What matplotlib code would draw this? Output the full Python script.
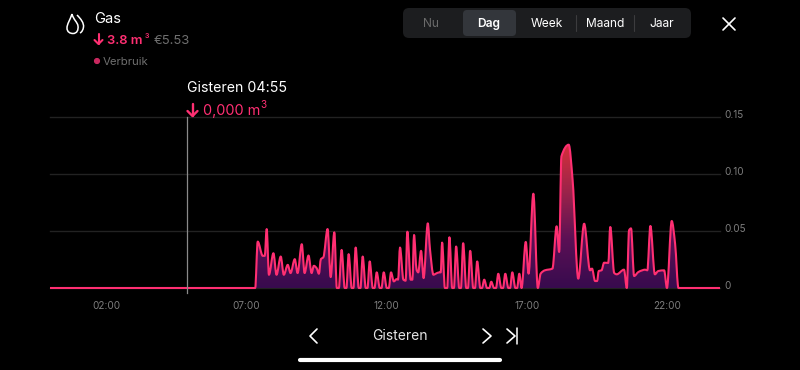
import numpy as np
import matplotlib
matplotlib.use('Agg')
import matplotlib.pyplot as plt
from matplotlib.patches import FancyBboxPatch, PathPatch, Circle
from matplotlib.path import Path
from matplotlib.colors import LinearSegmentedColormap

plt.rcParams['font.family'] = ['Inter', 'DejaVu Sans']

## chart values (hour of day, m3)
hours = [0, 7.31, 7.40, 7.58, 7.65, 7.72, 7.80, 7.96, 8.07, 8.22, 8.33, 8.47, 8.57, 8.72, 8.82, 8.97, 9.07, 9.21, 9.32,
         9.40, 9.50, 9.58, 9.65, 9.74, 9.89, 10.0, 10.13, 10.22, 10.29, 10.39, 10.50, 10.56, 10.64, 10.75, 10.81, 10.89,
         11.0, 11.06, 11.14, 11.25, 11.31, 11.39, 11.50, 11.56, 11.64, 11.75, 11.81, 11.89, 12.0, 12.07, 12.15, 12.25,
         12.35, 12.40, 12.47, 12.59, 12.67, 12.73, 12.85, 12.91, 12.97, 13.06, 13.12, 13.22, 13.31, 13.46, 13.54, 13.66,
         13.74, 13.87, 13.92, 13.97, 14.07, 14.15, 14.23, 14.33, 14.39, 14.47, 14.58, 14.64, 14.72, 14.83, 14.89, 14.97,
         15.08, 15.14, 15.22, 15.33, 15.39, 15.47, 15.57, 15.65, 15.72, 15.82, 15.89, 15.97, 16.08, 16.14, 16.22, 16.33,
         16.39, 16.47, 16.58, 16.64, 16.72, 16.80, 16.95, 17.05, 17.22, 17.38, 17.48, 17.63, 17.90, 18.05, 18.14, 18.22,
         18.48, 18.62, 18.82, 19.03, 19.24, 19.31, 19.42, 19.49, 19.55, 19.65, 19.74, 19.89, 19.96, 20.10, 20.19, 20.45,
         20.55, 20.63, 20.70, 20.81, 20.96, 21.10, 21.20, 21.28, 21.39, 21.55, 21.67, 21.88, 21.98, 22.15, 22.27, 22.39,
         23.87]
gas = [0, 0, .0407, .0282, .0282, .0517, .0116, .0305, .0116, .0276, .0116, .0203, .0131, .0253, .0131, .0384, .0131,
       .0285, .0131, .0195, .0174, .0125, .0253, .027, .0517, .0096, .0488, 0, 0, .0334, 0, 0, .0297, 0, 0, .0355,
       0, 0, .0276, 0, 0, .0233, 0, 0, .0137, 0, 0, .0137, 0, 0, .0137, .0058,
       .0078, .0073, .0355, .0073, .0064, .0494, .0073, .0073, .0465, .016, .0137, .0326, .0087, .0567, .0334, .0116,
       .0125, .0137, .0137, .0398, 0, 0, .0445, 0, 0, .0364, 0, 0, .0393, 0, 0, .0326,
       0, 0, .0233, 0, 0, .0073, 0, 0, .0055, 0, 0, .0125, 0, 0, .0125, 0,
       0, .0137, 0, 0, .0125, 0, .0404, .0126, .0827, 0, .0126, .0155, .017, .0541, .0316, .1155,
       .1257, .0944, .0082, .0564, .0155, .017, .0061, .0061, .0149, .0155, .0222, .022, .0535, .0132, .012, .0161,
       0, .0506, .0523, .0105, .014, .0155, .0161, .0155, .0544, .012, .0149, .0155, 0, .0588, .0389, 0,
       0]
y_ticks = [0, 0.05, 0.10, 0.15]
y_labels = ['0', '0.05', '0.10', '0.15']
x_ticks = [2, 7, 12, 17, 22]
x_labels = ['02:00', '07:00', '12:00', '17:00', '22:00']
periods = ['Nu', 'Dag', 'Week', 'Maand', 'Jaar']
period_x = [431, 489, 547, 605, 662]
period_colors = ['#6b6b6b', 'white', 'white', 'white', 'white']
cursor_hour = 4.88

pink = '#ff2f72'
W, H = 800, 370
fig = plt.figure(figsize=(W / 100, H / 100), dpi=100, facecolor='black')


def monotone_path(x, y):
    # same kind of curve the app draws: smooth through every point, flat at peaks and valleys
    x, y = np.array(x), np.array(y)
    h = np.diff(x)
    s = np.diff(y) / h
    m = np.zeros(len(x))
    for i in range(1, len(x) - 1):
        if s[i - 1] * s[i] > 0:
            m[i] = 2 * s[i - 1] * s[i] / (s[i - 1] + s[i])
    verts = [(x[0], y[0])]
    codes = [Path.MOVETO]
    for i in range(len(h)):
        verts += [(x[i] + h[i] / 3, y[i] + m[i] * h[i] / 3),
                  (x[i + 1] - h[i] / 3, y[i + 1] - m[i + 1] * h[i] / 3),
                  (x[i + 1], y[i + 1])]
        codes += [Path.CURVE4] * 3
    return verts, codes


## chart axes: x 50..720 px, y 288..117 px
ax = fig.add_axes([50 / W, 1 - 288 / H, 670 / W, 171 / H], facecolor='none')
for s in ax.spines.values():
    s.set_visible(False)
ax.set_yticks(y_ticks, y_labels)
ax.set_xticks(x_ticks, x_labels)
ax.yaxis.tick_right()
ax.tick_params(axis='both', length=0, labelsize=7.2, labelcolor='#7d7d7d')
ax.tick_params(axis='y', pad=3.5)
ax.tick_params(axis='x', pad=9.5)
ax.grid(axis='y', color='#222222', lw=1)
ax.set_axisbelow(True)
for gl in ax.get_ygridlines():
    gl.set_clip_on(False)

# gradient under the line
line_verts, line_codes = monotone_path(hours, gas)
area = Path(line_verts + [(hours[-1], 0), (hours[0], 0), (hours[0], 0)],
            line_codes + [Path.LINETO, Path.LINETO, Path.CLOSEPOLY])
cmap = LinearSegmentedColormap.from_list('gas', ['#380b4e', '#5a1055', '#9a234a', '#d4303c'])
grad = ax.imshow(np.linspace(0, 1, 200).reshape(-1, 1), origin='lower', extent=[0, 23.87, 0, 0.125],
                 aspect='auto', cmap=cmap, zorder=2)
grad.set_clip_path(area, transform=ax.transData)
ax.set_xlim(0, 23.87)
ax.set_ylim(0, 0.15)

ax.add_patch(PathPatch(Path(line_verts, line_codes), fc='none', ec=pink, lw=1.5, joinstyle='round', clip_on=False, zorder=3))
ax.plot([cursor_hour, cursor_hour], [-0.0044, 0.15], color='#8a8a8a', lw=0.9, clip_on=False, zorder=4)

# tick labels of the y axis sit just above their gridlines
for lab in ax.get_yticklabels():
    lab.set_verticalalignment('center')
    lab.set_transform(lab.get_transform() + matplotlib.transforms.ScaledTranslation(0, 1.3 / 72, fig.dpi_scale_trans))

## overlay in pixel coordinates for the app controls
ui = fig.add_axes([0, 0, 1, 1], facecolor='none')
ui.set_xlim(0, W)
ui.set_ylim(H, 0)
ui.axis('off')


def line(xs, ys, color='white', lw=1.3):
    ui.plot(xs, ys, color=color, lw=lw, solid_capstyle='round', solid_joinstyle='round')


def down_arrow(x, y0, y1, color=pink, lw=1.5, head=4):
    line([x, x], [y0, y1], color, lw)
    line([x - head, x, x + head], [y1 - head, y1, y1 - head], color, lw)


# header
ui.text(94, 19, 'Gas', color='white', fontsize=10.6, va='center')
down_arrow(98.5, 34, 44)
ui.text(107, 41, '3.8 m', color=pink, fontsize=9.4, va='center', fontweight='semibold')
ui.text(149, 36, '3', color=pink, fontsize=5, va='center', ha='right', fontweight='semibold')
ui.text(154, 41, '€5.53', color='#6f6f6f', fontsize=9.4, va='center')
ui.add_patch(Circle((97, 61), 2.4, color='#c9285f'))
ui.text(103, 62, 'Verbruik', color='#6f6f6f', fontsize=8.2, va='center')

# flame icon
verts = [(72, 14), (70, 20), (67, 24), (67, 28), (67, 32), (70, 33.5), (73, 33.5),
         (77, 33.5), (78.5, 30), (78, 26), (77.5, 22), (73.5, 20), (72, 14)]
codes = [Path.MOVETO] + [Path.CURVE4] * 12
ui.add_patch(PathPatch(Path(verts, codes), fc='none', ec='white', lw=1.1))
flame_back = [(77, 15), (81, 19), (84, 23), (83.5, 27), (83, 30), (82, 32), (80, 33)]
ui.add_patch(PathPatch(Path(flame_back, [Path.MOVETO] + [Path.CURVE4] * 6), fc='none', ec='white', lw=1.1))

# cursor label
ui.text(187, 88, 'Gisteren 04:55', color='white', fontsize=10.2, va='center')
down_arrow(192.5, 104, 116, lw=1.7, head=5)
ui.text(203, 111, '0,000 m', color=pink, fontsize=10.4, va='center')
ui.text(260, 105, '3', color=pink, fontsize=7.2, va='center')

# period selector
ui.add_patch(FancyBboxPatch((409, 14), 276, 18, boxstyle='round,pad=6,rounding_size=6', fc='#1c1d1f', ec='none'))
ui.add_patch(FancyBboxPatch((465, 12), 49, 22, boxstyle='round,pad=2,rounding_size=4', fc='#33363b', ec='none'))
line([575.5, 575.5], [15, 31], '#3c3c3e', 0.8)
line([633.5, 633.5], [15, 31], '#3c3c3e', 0.8)
for name, x, c in zip(periods, period_x, period_colors):
    ui.text(x, 24, name, color=c, fontsize=8.6, ha='center', va='center',
            fontweight='semibold' if name == 'Dag' else 'normal')

# close cross
line([723, 735], [18, 30], lw=1.2)
line([735, 723], [18, 30], lw=1.2)

# bottom nav
ui.text(400, 336, 'Gisteren', color='#e6e6e6', fontsize=10, ha='center', va='center')
line([317, 310, 317], [329, 336, 343], lw=1.2)
line([483, 491, 483], [329, 336, 343], lw=1.2)
line([507, 515, 507], [329, 336, 343], lw=1.2)
line([517, 517], [328, 344], lw=1.1)
line([300, 500], [360, 360], lw=3)

fig.savefig('out.png', dpi=100, facecolor='black')
